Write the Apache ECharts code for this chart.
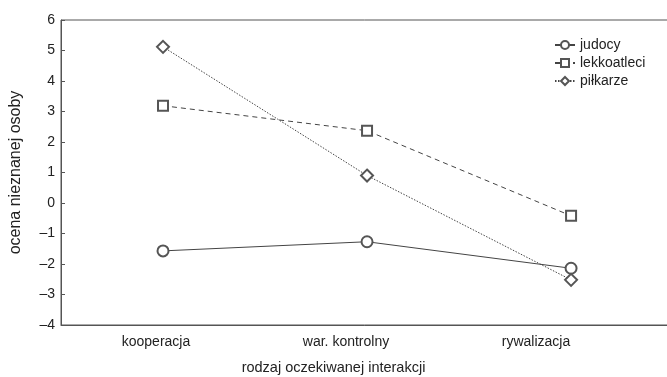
<!DOCTYPE html>
<html>
<head>
<meta charset="utf-8">
<script src="https://cdn.jsdelivr.net/npm/echarts@6/dist/echarts.min.js"></script>
<style>
  html, body { margin: 0; padding: 0; background: #fff; }
  #chart { width: 667px; height: 377px; }
</style>
</head>
<body>
<div id="chart"></div>
<script>
// kategorie i wartości
const categories = ['kooperacja', 'war. kontrolny', 'rywalizacja']
const judocy = [-1.57, -1.27, -2.14]
const lekkoatleci = [3.19, 2.37, -0.42]
const pilkarze = [5.12, 0.9, -2.52]
const yTicks = { min: -4, max: 6, interval: 1 }

const font = 'Liberation Sans, Arial, sans-serif'
const ink = '#222'
const axisGray = '#555'

const toPoints = (arr) => arr.map((v, i) => [i, v])

const makeSeries = (name, values, symbol, size, lineType) => ({
  name: name,
  type: 'line',
  xAxisIndex: 1,
  data: toPoints(values),
  symbol: symbol,
  symbolSize: size,
  showAllSymbol: true,
  lineStyle: { color: '#444', width: 1, type: lineType },
  itemStyle: { color: '#555', borderWidth: 1 },
  emphasis: { disabled: true },
  z: 3
})

const chart = echarts.init(document.getElementById('chart'))
chart.setOption({
  animation: false,
  textStyle: { fontFamily: font },
  title: {
    text: 'rodzaj oczekiwanej interakcji',
    left: 'center',
    top: 355,
    textStyle: { fontFamily: font, fontSize: 14.5, fontWeight: 'normal', color: ink }
  },
  legend: {
    orient: 'vertical',
    left: 549,
    top: 33,
    itemWidth: 20,
    itemHeight: 10,
    itemGap: 4,
    textStyle: { fontFamily: font, fontSize: 14, color: ink },
    data: ['judocy', 'lekkoatleci', 'piłkarze']
  },
  grid: {
    left: 61,
    width: 760,
    top: 20,
    bottom: 52,
    outerBoundsMode: 'none',
    show: true,
    borderColor: axisGray,
    borderWidth: 1
  },
  xAxis: [
    {
      type: 'category',
      data: categories,
      max: 3,
      boundaryGap: true,
      axisLine: { onZero: false, lineStyle: { color: axisGray } },
      axisTick: { inside: true, length: 4, alignWithLabel: true, lineStyle: { color: axisGray } },
      axisLabel: {
        color: ink, fontSize: 14, margin: 10, fontFamily: font,
        formatter: (v) => v || ''
      },
      splitLine: { show: false }
    },
    {
      type: 'value',
      show: false,
      min: -0.5,
      max: 3.225,
      axisLine: { onZero: false },
      splitLine: { show: false }
    }
  ],
  yAxis: {
    type: 'value',
    min: yTicks.min,
    max: yTicks.max,
    interval: yTicks.interval,
    name: 'ocena nieznanej osoby',
    nameLocation: 'middle',
    nameGap: 37,
    nameTextStyle: { fontFamily: font, fontSize: 16, color: ink },
    axisLine: { show: true, onZero: false, lineStyle: { color: axisGray } },
    axisTick: { show: true, inside: true, length: 4, lineStyle: { color: axisGray } },
    axisLabel: {
      color: ink, fontSize: 14, margin: 6, fontFamily: font,
      formatter: (v) => String(v).replace('-', '–')
    },
    splitLine: { show: false }
  },
  series: [
    makeSeries('judocy', judocy, 'emptyCircle', 11, 'solid'),
    makeSeries('lekkoatleci', lekkoatleci, 'emptyRect', 10, [5, 4]),
    makeSeries('piłkarze', pilkarze, 'emptyDiamond', 12, [1.5, 1.5])
  ]
})
</script>
</body>
</html>
